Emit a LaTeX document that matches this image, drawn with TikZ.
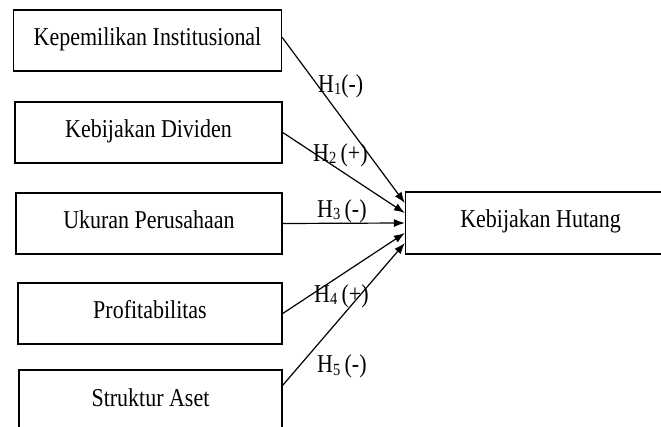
\documentclass[tikz,border=0pt]{standalone}
\usepackage{fontspec}
\setmainfont{Liberation Serif}[FakeStretch=0.855]
\usetikzlibrary{arrows.meta}
\newcommand{\hsub}[1]{\raisebox{-2pt}{\fontsize{17}{17}\selectfont #1}}
\begin{document}
\begin{tikzpicture}[x=1pt,y=-1pt,
  box/.style={draw, line width=1.5pt, inner sep=0pt, text height=14pt, text depth=4pt,
    minimum height=61pt, font=\fontsize{25.7}{30}\selectfont},
  conn/.style={line width=1.2pt, -{Latex[length=11pt,width=8pt]}},
  hyp/.style={anchor=base west, inner sep=0pt, font=\fontsize{25.7}{30}\selectfont}]
\useasboundingbox (0,0) rectangle (661,427);
\clip (0,0) rectangle (661,427);
\fill[white] (0,0) rectangle (661,427);
\node[box, minimum width=268pt] (b1) at (147.5,40.5) {Kepemilikan Institusional};
\node[box, minimum width=267pt] (b2) at (148.5,132.5) {Kebijakan Dividen};
\node[box, minimum width=266pt] (b3) at (149,223.5) {Ukuran Perusahaan};
\node[box, minimum width=264pt] (b4) at (150,313.5) {Profitabilitas};
\node[box, minimum width=263pt, minimum height=62pt] (b5) at (150.5,401) {Struktur Aset};
\node[box, minimum width=270pt, minimum height=62pt] (t) at (540.6,223) {Kebijakan Hutang};
\draw[conn] ([yshift=3pt]b1.east) -- ([yshift=20pt]t.west);
\draw[conn] (b2.east) -- ([yshift=10pt]t.west);
\draw[conn] (b3.east) -- (t.west);
\draw[conn] (b4.east) -- ([yshift=-10pt]t.west);
\draw[conn] ([yshift=-16pt]b5.north east) -- ([yshift=-20pt]t.west);
\node[hyp] (h1) at (318,93) {H\hsub{1}(-)};
\node[hyp] (h2) at (313,162) {H\hsub{2}\,(+)};
\node[hyp] (h3) at (317,218) {H\hsub{3}\,(-)};
\node[hyp] (h4) at (314,303) {H\hsub{4}\,(+)};
\node[hyp] (h5) at (317,373) {H\hsub{5}\,(-)};
\end{tikzpicture}
\end{document}
